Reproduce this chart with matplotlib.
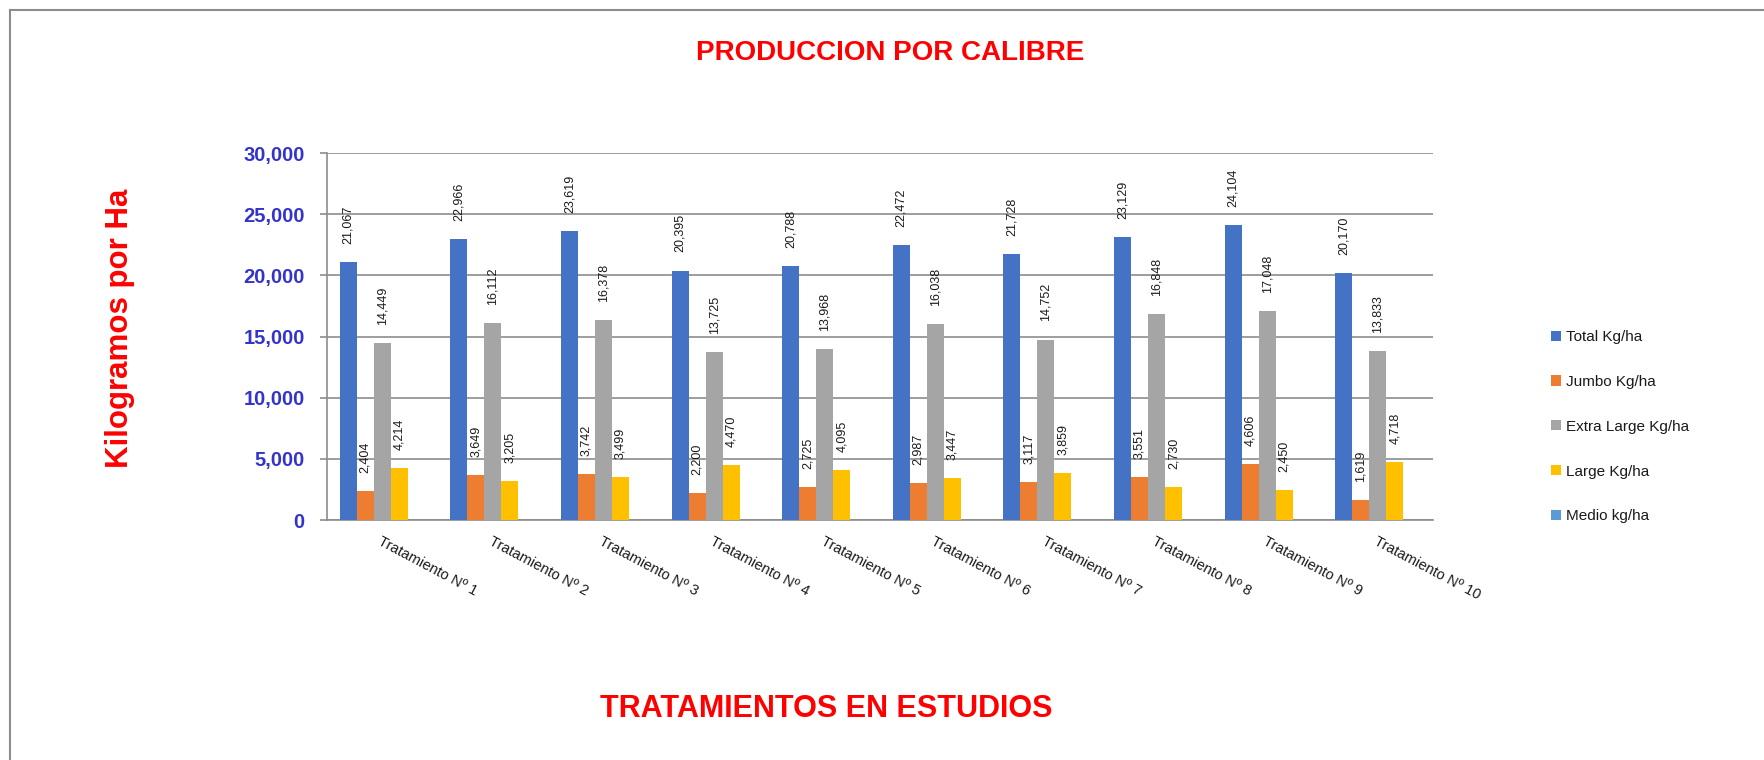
import matplotlib
matplotlib.use("Agg")
import matplotlib.pyplot as plt
import numpy as np
from matplotlib.lines import Line2D
from matplotlib.patches import Patch

plt.rcParams['font.family'] = ['Liberation Sans', 'DejaVu Sans']

categories = ["Tratamiento Nº 1", "Tratamiento Nº 2", "Tratamiento Nº 3", "Tratamiento Nº 4",
              "Tratamiento Nº 5", "Tratamiento Nº 6", "Tratamiento Nº 7", "Tratamiento Nº 8",
              "Tratamiento Nº 9", "Tratamiento Nº 10"]
total = [21067, 22966, 23619, 20395, 20788, 22472, 21728, 23129, 24104, 20170]
jumbo = [2404, 3649, 3742, 2200, 2725, 2987, 3117, 3551, 4606, 1619]
extra_large = [14449, 16112, 16378, 13725, 13968, 16038, 14752, 16848, 17048, 13833]
large = [4214, 3205, 3499, 4470, 4095, 3447, 3859, 2730, 2450, 4718]
medio = [0, 0, 0, 0, 0, 0, 0, 0, 0, 0]

series_names = ["Total Kg/ha", "Jumbo Kg/ha", "Extra Large Kg/ha", "Large Kg/ha", "Medio kg/ha"]
series_vals = [total, jumbo, extra_large, large, medio]
colors = ["#4472C4", "#ED7D31", "#A5A5A5", "#FFC000", "#5B9BD5"]

W, H = 1764, 760
fig = plt.figure(figsize=(W / 100, H / 100), dpi=100)
fig.patch.set_facecolor('white')

ax = fig.add_axes([327 / W, 1 - 520 / H, (1433 - 327) / W, (520 - 153) / H])

x = np.arange(len(categories))
bw = 0.154
for i, (name, vals, c) in enumerate(zip(series_names, series_vals, colors)):
    pos = x + (i - 2) * bw
    ax.bar(pos, vals, width=bw, color=c, label=name, zorder=3)
    if name != "Medio kg/ha":
        for p, v in zip(pos, vals):
            ax.annotate(f"{v:,}", xy=(p, v), xytext=(0, 13), textcoords='offset points',
                        rotation=90, ha='center', va='bottom', fontsize=9, color='#1A1A1A')

ax.set_xlim(-0.5, len(categories) - 0.5)
ax.set_ylim(0, 30000)
ax.set_yticks(np.arange(0, 30001, 5000))
ax.set_yticklabels([f"{v:,}" for v in range(0, 30001, 5000)])
ax.yaxis.grid(True, color='#8C8C8C', linewidth=1.2, zorder=0)
ax.set_axisbelow(True)

for s in ['top', 'right']:
    ax.spines[s].set_visible(False)
ax.spines['left'].set_color('#8C8C8C')
ax.spines['bottom'].set_color('#8C8C8C')
ax.spines['left'].set_linewidth(1.2)
ax.spines['bottom'].set_linewidth(1.2)

ax.tick_params(axis='y', length=5, width=1.2, color='#8C8C8C', pad=11,
               labelsize=14.5, labelcolor='#3434CC')
for t in ax.get_yticklabels():
    t.set_fontweight('bold')

ax.set_xticks(x)
ax.set_xticklabels(categories, rotation=-28, ha='left', va='top',
                   rotation_mode='anchor', fontsize=10.5, color='#1A1A1A')
ax.tick_params(axis='x', length=0, pad=10)

# titles
fig.text(890 / W, 1 - 53 / H, "PRODUCCION POR CALIBRE", ha='center', va='center',
         fontsize=20, fontweight='bold', color='#FF0000')
fig.text(120 / W, 1 - 328 / H, "Kilogramos por Ha", ha='center', va='center',
         rotation=90, fontsize=22.5, fontweight='bold', color='#FF0000')
fig.text(826 / W, 1 - 709 / H, "TRATAMIENTOS EN ESTUDIOS", ha='center', va='center',
         fontsize=22, fontweight='bold', color='#FF0000')

# legend
handles = [Patch(facecolor=c, edgecolor='none') for c in colors]
leg = fig.legend(handles, series_names, loc='upper left',
                 bbox_to_anchor=(1551 / W, 1 - 330 / H), frameon=False,
                 fontsize=11, handlelength=0.65, handleheight=0.65,
                 handletextpad=0.35, labelspacing=2.02, borderaxespad=0, borderpad=0)
for t in leg.get_texts():
    t.set_color('#1A1A1A')

# outer frame
fig.add_artist(Line2D([10 / W, 10 / W], [0, 1 - 10 / H], transform=fig.transFigure,
                      color='#8C8C8C', linewidth=1.5))
fig.add_artist(Line2D([10 / W, 1], [1 - 10 / H, 1 - 10 / H], transform=fig.transFigure,
                      color='#8C8C8C', linewidth=1.5))

fig.savefig("out.png", dpi=100, facecolor='white')
